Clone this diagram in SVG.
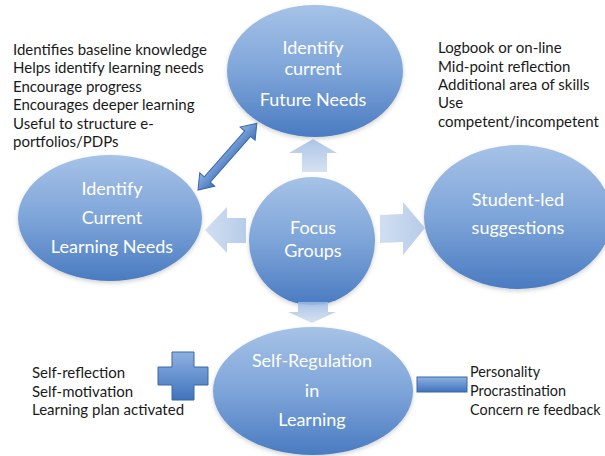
<svg xmlns="http://www.w3.org/2000/svg" width="605" height="456" viewBox="0 0 605 456">
<defs>
<linearGradient id="gNode" x1="0" y1="0" x2="0" y2="1">
<stop offset="0" stop-color="#a6c2e7"/>
<stop offset="0.5" stop-color="#7ea5d9"/>
<stop offset="1" stop-color="#4a7bc1"/>
</linearGradient>
<linearGradient id="gArrow" x1="0" y1="0" x2="0" y2="1">
<stop offset="0" stop-color="#9dbbe3"/>
<stop offset="1" stop-color="#cfdcf0"/>
</linearGradient>
<linearGradient id="gArrowH" x1="0" y1="0" x2="1" y2="0">
<stop offset="0" stop-color="#c9d8ef"/>
<stop offset="1" stop-color="#aac3e6"/>
</linearGradient>
<linearGradient id="gSolid" x1="0" y1="0" x2="0" y2="1">
<stop offset="0" stop-color="#8fb1e0"/>
<stop offset="1" stop-color="#3f73bd"/>
</linearGradient>
<filter id="sh" x="-10%" y="-10%" width="120%" height="125%">
<feDropShadow dx="0" dy="2" stdDeviation="2" flood-color="#000" flood-opacity="0.18"/>
</filter>
</defs>
<style>
.node{fill:url(#gNode);filter:url(#sh);}
.nt{font-family:Lato,"Open Sans","Liberation Sans",sans-serif;font-size:18px;fill:#ffffff;text-anchor:middle;}
.lt{font-family:Lato,"Open Sans","Liberation Sans",sans-serif;font-size:15px;fill:#1a1a1a;}
.sm{font-size:14.4px;}
.blk{fill:url(#gArrow);opacity:0.85;}
.blkh{fill:url(#gArrowH);opacity:0.85;}
.solid{fill:url(#gSolid);stroke:#3a66a8;stroke-width:1;}
</style>
<rect width="605" height="456" fill="#ffffff"/>

<g id="node-future">
<ellipse class="node" cx="315" cy="71" rx="88" ry="66"/>
<text class="nt" x="313" y="54">Identify</text>
<text class="nt" x="313" y="75">current</text>
<text class="nt" x="313" y="106">Future Needs</text>
</g>
<g id="node-current">
<ellipse class="node" cx="110" cy="218" rx="92" ry="63"/>
<text class="nt" x="112" y="195">Identify</text>
<text class="nt" x="112" y="224">Current</text>
<text class="nt" x="112" y="253">Learning Needs</text>
</g>
<g id="node-student">
<ellipse class="node" cx="518" cy="217" rx="94" ry="72"/>
<text class="nt" x="518" y="206">Student-led</text>
<text class="nt" x="518" y="234">suggestions</text>
</g>
<g id="node-focus">
<ellipse class="node" cx="312" cy="241" rx="63" ry="64"/>
<text class="nt" x="313" y="234">Focus</text>
<text class="nt" x="313" y="257">Groups</text>
</g>
<g id="node-selfreg">
<ellipse class="node" cx="313" cy="391" rx="100" ry="64"/>
<text class="nt" x="312" y="367">Self-Regulation</text>
<text class="nt" x="312" y="397">in</text>
<text class="nt" x="312" y="426">Learning</text>
</g>

<g id="connectors">
<path class="blk" d="M313,139 L337,153 L327,153 L327,172 L302,172 L302,153 L289,153 Z"/>
<path class="blkh" d="M205,230 L227,207 L227,218 L246,218 L246,243 L227,243 L227,253 Z"/>
<path class="blkh" d="M425,228 L403,202 L403,214 L380,215 L380,243 L403,242 L403,255 Z"/>
<path class="blk" d="M298,302 L328,302 L328,312 L336,312 L312,323 L288,312 L298,312 Z"/>
<path class="solid" transform="translate(198,190) rotate(-48.6)" d="M0,0 L14,-10 L14,-4 L75,-4 L75,-10 L89,0 L75,10 L75,4 L14,4 L14,10 Z"/>
</g>

<g id="plus">
<path class="solid" d="M172,352 L194,352 L194,367 L208,367 L208,385 L194,385 L194,400 L172,400 L172,385 L158,385 L158,367 L172,367 Z"/>
</g>
<g id="minus">
<rect class="solid" x="417" y="377" width="50" height="15"/>
</g>

<g id="text-left">
<text class="lt" x="13" y="55">Identifies baseline knowledge</text>
<text class="lt" x="13" y="73">Helps identify learning needs</text>
<text class="lt" x="13" y="92">Encourage progress</text>
<text class="lt" x="13" y="110">Encourages deeper learning</text>
<text class="lt" x="13" y="129">Useful to structure e-</text>
<text class="lt" x="13" y="147">portfolios/PDPs</text>
</g>
<g id="text-right">
<text class="lt" x="438" y="53">Logbook or on-line</text>
<text class="lt" x="438" y="72">Mid-point reflection</text>
<text class="lt" x="438" y="90">Additional area of skills</text>
<text class="lt" x="438" y="108">Use</text>
<text class="lt" x="438" y="127">competent/incompetent</text>
</g>
<g id="text-plus">
<text class="lt" x="32" y="378">Self-reflection</text>
<text class="lt" x="32" y="397">Self-motivation</text>
<text class="lt" x="32" y="415">Learning plan activated</text>
</g>
<g id="text-minus">
<text class="lt sm" x="470" y="377">Personality</text>
<text class="lt sm" x="470" y="396">Procrastination</text>
<text class="lt sm" x="470" y="415">Concern re feedback</text>
</g>
</svg>
